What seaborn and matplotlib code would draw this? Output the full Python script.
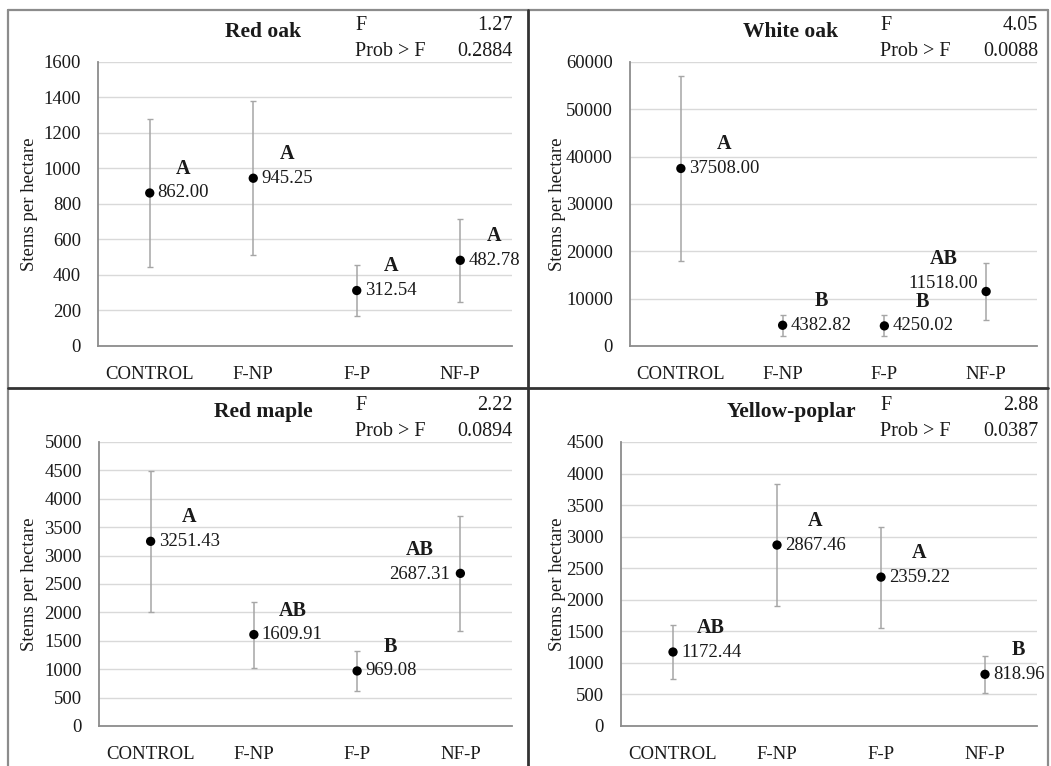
import numpy as np
import matplotlib
matplotlib.use('Agg')
import matplotlib.pyplot as plt
from matplotlib.lines import Line2D
import seaborn as sns

categories = ['CONTROL', 'F-NP', 'F-P', 'NF-P']

red_oak_mean = [862.00, 945.25, 312.54, 482.78]
red_oak_err = [415, 434, 145, 235]
red_oak_letters = ['A', 'A', 'A', 'A']

white_oak_mean = [37508.00, 4382.82, 4250.02, 11518.00]
white_oak_err = [19600, 2200, 2200, 6000]
white_oak_letters = ['A', 'B', 'B', 'AB']

red_maple_mean = [3251.43, 1609.91, 969.08, 2687.31]
red_maple_err = [1240, 580, 355, 1015]
red_maple_letters = ['A', 'AB', 'B', 'AB']

yellow_poplar_mean = [1172.44, 2867.46, 2359.22, 818.96]
yellow_poplar_err = [422, 972, 800, 298]
yellow_poplar_letters = ['AB', 'A', 'A', 'B']

species = ['Red oak', 'White oak', 'Red maple', 'Yellow-poplar']
f_values = [1.27, 4.05, 2.22, 2.88]
p_values = [0.2884, 0.0088, 0.0894, 0.0387]
y_max = [1600, 60000, 5000, 4500]
y_step = [200, 10000, 500, 500]

sns.set_theme(style='white')
plt.rcParams['font.family'] = ['Liberation Serif', 'DejaVu Serif']

W, H = 1051, 766
fig = plt.figure(figsize=(W / 100, H / 100), dpi=100)

# pixel boxes of the plot areas (left, top, right, bottom) and frame origins
boxes = [(98, 62, 512, 346), (630, 62, 1037, 346),
         (99, 442, 512, 726), (621, 442, 1037, 726)]
frame_left = [0, 528, 0, 528]
# labels drawn on the left side of the point: (panel, index) -> offset in px
left_labels = {(1, 3): (-8, 8), (2, 3): (-10, -1)}

means = [red_oak_mean, white_oak_mean, red_maple_mean, yellow_poplar_mean]
errs = [red_oak_err, white_oak_err, red_maple_err, yellow_poplar_err]
letters = [red_oak_letters, white_oak_letters, red_maple_letters, yellow_poplar_letters]

ink = '#1a1a1a'

for k in range(4):
    l, t, r, b = boxes[k]
    ax = fig.add_axes([l / W, 1 - b / H, (r - l) / W, (b - t) / H])
    ax.errorbar(categories, means[k], yerr=errs[k], fmt='none', ecolor='#a6a6a6',
                elinewidth=1.1, capsize=2, capthick=1, zorder=2)
    sns.scatterplot(x=categories, y=means[k], ax=ax, color='black', s=45,
                    edgecolor='none', zorder=3, legend=False)
    ax.set_xlim(-0.5, 3.5)
    ax.set_ylim(0, y_max[k])
    ax.set_yticks(np.arange(0, y_max[k] + 1, y_step[k]))
    ax.grid(axis='y', color='#d9d9d9', lw=1)
    ax.set_axisbelow(True)
    for s in ['top', 'right']:
        ax.spines[s].set_visible(False)
    for s in ['left', 'bottom']:
        ax.spines[s].set_color('#8c8c8c')
        ax.spines[s].set_linewidth(1.3)
    ax.tick_params(axis='both', labelsize=13.5, labelcolor=ink)
    ax.tick_params(axis='x', length=0, pad=14.5)
    ax.tick_params(axis='y', length=4.3, width=1, color='#d9d9d9', pad=8)
    ax.set_ylabel('Stems per hectare', fontsize=13.5, color=ink)
    ax.yaxis.set_label_coords((frame_left[k] + 38 - l) / (r - l), 0.5)

    for i, m in enumerate(means[k]):
        if (k, i) in left_labels:
            dx, dy = left_labels[(k, i)]
            ha = 'right'
        else:
            dx, dy = 8, 0
            ha = 'left'
        txt = ax.annotate(f'{m:.2f}', xy=(i, m), xytext=(dx * 0.72, dy * 0.72),
                          textcoords='offset points', ha=ha, va='center',
                          fontsize=13.5, color=ink)
        ax.annotate(letters[k][i], xy=(0.5, 1), xycoords=txt, xytext=(0, 4),
                    textcoords='offset points', ha='center', va='bottom',
                    fontsize=14.5, fontweight='bold', color=ink)

    fig.text((frame_left[k] + 263) / W, 1 - (t - 30) / H, species[k],
             ha='center', va='center', fontsize=15.5, fontweight='bold', color=ink)
    fig.text((r - 157) / W, 1 - (t - 36) / H, 'F', ha='left', va='center',
             fontsize=14.5, color=ink)
    fig.text((r + 1) / W, 1 - (t - 36) / H, f'{f_values[k]:.2f}', ha='right',
             va='center', fontsize=14.5, color=ink)
    fig.text((r - 157) / W, 1 - (t - 11) / H, 'Prob > F', ha='left', va='center',
             fontsize=14.5, color=ink)
    fig.text((r + 1) / W, 1 - (t - 11) / H, f'{p_values[k]:.4f}', ha='right',
             va='center', fontsize=14.5, color=ink)

# panel frames
fr = fig.transFigure
fig.add_artist(Line2D([8 / W, 8 / W], [0, 1 - 10 / H], transform=fr, color='#8c8c8c', lw=1.6))
fig.add_artist(Line2D([1048 / W, 1048 / W], [0, 1 - 10 / H], transform=fr, color='#8c8c8c', lw=1.6))
fig.add_artist(Line2D([8 / W, 1048 / W], [1 - 10 / H, 1 - 10 / H], transform=fr, color='#8c8c8c', lw=1.6))
fig.add_artist(Line2D([528 / W, 528 / W], [0, 1 - 10 / H], transform=fr, color='#333333', lw=2))
fig.add_artist(Line2D([8 / W, 1048 / W], [1 - 388 / H, 1 - 388 / H], transform=fr, color='#333333', lw=2))

fig.savefig('out.png', dpi=100)
